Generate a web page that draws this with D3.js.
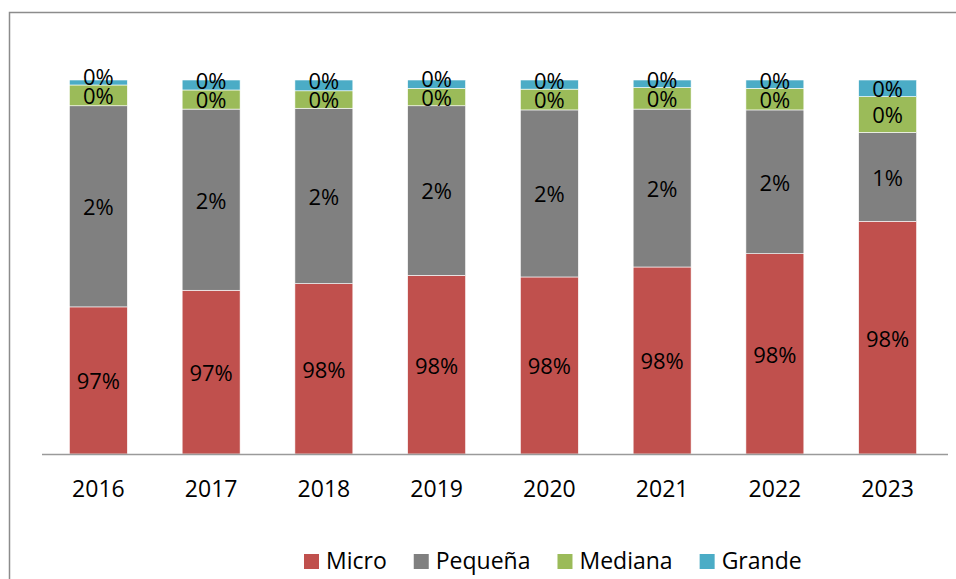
<!DOCTYPE html>
<html>
<head>
<meta charset="utf-8">
<script src="https://cdn.jsdelivr.net/npm/d3@7"></script>
<style>
  body { margin: 0; background: #fff; }
  text { font-family: "Open Sans", sans-serif; fill: #000; }
</style>
</head>
<body>
<div id="chart"></div>
<script>
// share of firms by size, per year (fractions)
const years = ['2016', '2017', '2018', '2019', '2020', '2021', '2022', '2023'];
const series = ['Micro', 'Pequeña', 'Mediana', 'Grande'];
const micro   = [0.9727, 0.9747, 0.9755, 0.9765, 0.9763, 0.9775, 0.9791, 0.9830];
const pequena = [0.0242, 0.0218, 0.0211, 0.0204, 0.0201, 0.0190, 0.0173, 0.0107];
const mediana = [0.0025, 0.0023, 0.0021, 0.0021, 0.0025, 0.0026, 0.0026, 0.0043];
const grande  = [0.0006, 0.0012, 0.0013, 0.0010, 0.0011, 0.0010, 0.0010, 0.0020];
const colors = ['#C0504D', '#808080', '#9BBB59', '#4BACC6'];
// the value axis of the original starts at 95.5%
const yMin = 0.955;

const width = 956, height = 579;
const baseY = 454, topY = 80;

const rows = years.map((y, i) => ({
  year: y, Micro: micro[i], 'Pequeña': pequena[i], Mediana: mediana[i], Grande: grande[i]
}));

const stack = d3.stack().keys(series);
const layers = stack(rows);

const x = d3.scaleBand().domain(years).range([42, 944])
  .paddingInner(0.486).paddingOuter(0.243);
const y = d3.scaleLinear().domain([yMin, 1]).range([baseY, topY]).clamp(true);
const color = d3.scaleOrdinal().domain(series).range(colors);
const fmt = d3.format('.0%');

const svg = d3.select('#chart').append('svg')
  .attr('width', width)
  .attr('height', height);

// outer chart frame (right and bottom edges run off the picture)
svg.append('rect')
  .attr('x', 9.5).attr('y', 12.5)
  .attr('width', 1000).attr('height', 700)
  .attr('fill', 'none')
  .attr('stroke', '#8c8c8c')
  .attr('stroke-width', 1.5);

//Stacked bars
const layer = svg.selectAll('.layer')
  .data(layers)
  .enter().append('g')
  .attr('class', 'layer')
  .attr('fill', d => color(d.key));

layer.selectAll('rect')
  .data(d => d)
  .enter().append('rect')
  .attr('x', d => x(d.data.year))
  .attr('width', x.bandwidth())
  .attr('y', d => y(d[1]))
  .attr('height', d => y(d[0]) - y(d[1]))
  .attr('stroke', '#fff')
  .attr('stroke-width', 0.6);

//Label position: middle of segment, top label pushed up so it clears the one below
const mid = v => (y(v[0]) + y(v[1])) / 2;
function labelY(key, v, i) {
  const idx = series.indexOf(key);
  let cy = mid(v) + 1;
  if (idx === series.length - 1) {
    const below = mid(layers[idx - 1][i]) + 1;
    cy = Math.min(mid(v) + 1, below - 19);
  }
  return cy;
}

//Data labels
layer.selectAll('text')
  .data(d => d.map((v, i) => ({ v, i, key: d.key })))
  .enter().append('text')
  .attr('x', d => x(d.v.data.year) + x.bandwidth() / 2)
  .attr('y', d => labelY(d.key, d.v, d.i))
  .attr('dy', '0.36em')
  .attr('text-anchor', 'middle')
  .style('font-size', '22px')
  .text(d => fmt(d.v.data[d.key]));

//Category axis
const xAxis = svg.append('g')
  .attr('transform', 'translate(0,' + baseY + ')')
  .call(d3.axisBottom(x).tickSize(0).tickPadding(0));

xAxis.select('.domain')
  .attr('d', 'M42,0.5H948')
  .attr('stroke', '#9a9a9a')
  .attr('stroke-width', 1.5);

xAxis.selectAll('text')
  .attr('y', 43)
  .attr('dy', 0)
  .style('font-size', '23px')
  .style('font-family', '"Open Sans", sans-serif')
  .attr('fill', '#000');

//Legend
const legend = svg.append('g').attr('class', 'legend');
let lx = 304;
series.forEach((s, i) => {
  const g = legend.append('g').attr('transform', 'translate(' + lx + ',0)');
  g.append('rect')
    .attr('x', 0).attr('y', 554)
    .attr('width', 15).attr('height', 15)
    .attr('fill', colors[i]);
  const t = g.append('text')
    .attr('x', 22).attr('y', 569)
    .style('font-size', '23px')
    .text(s);
  lx += 22 + t.node().getComputedTextLength() + 27;
});
</script>
</body>
</html>
